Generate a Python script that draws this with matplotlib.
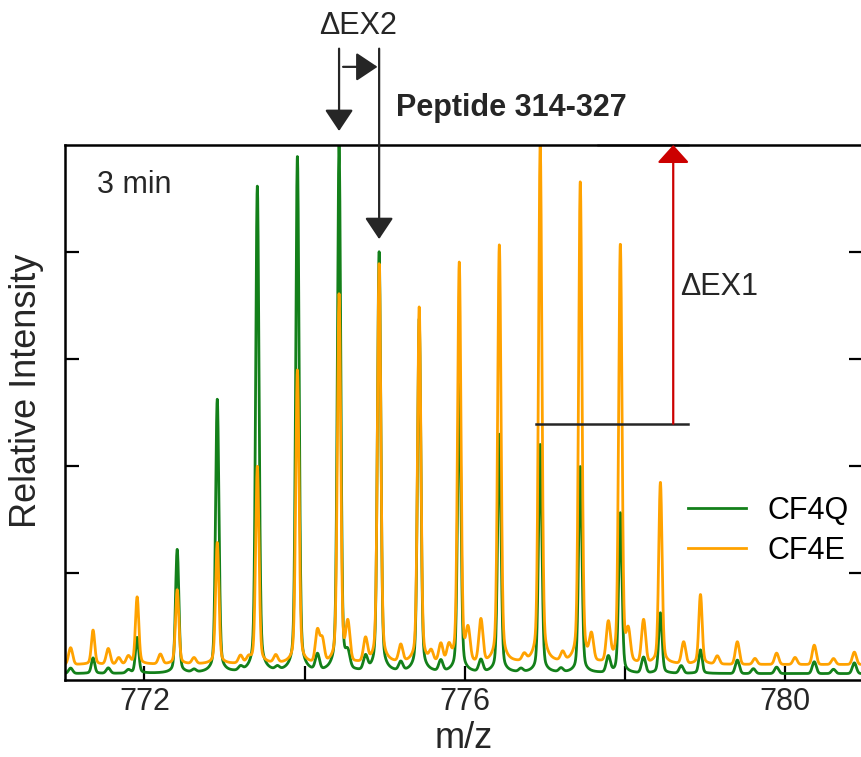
"""Isotope envelope of peptide 314-327 at 3 min: CF4Q vs CF4E, with the ΔEX1 / ΔEX2 markers."""
import matplotlib
matplotlib.use("Agg")
import matplotlib.pyplot as plt
import numpy as np

plt.rcParams["font.family"] = ["Liberation Sans", "DejaVu Sans"]

# --- values (m/z, relative intensity %) ------------------------------------------------------- #
PEAK_MZ = [771.36, 771.91, 772.41, 772.91, 773.41, 773.91, 774.43, 774.93,
           775.43, 775.93, 776.43, 776.94, 777.44, 777.94, 778.44, 778.94]
CF4Q_PEAKS = [4.1, 7.9, 24.3, 52.3, 92.1, 97.6, 99.8, 79.8,
              67.3, 55.1, 45.8, 43.9, 39.8, 31.2, 12.5, 5.6]
CF4E_PEAKS = [9.3, 15.5, 16.8, 25.6, 39.8, 57.8, 72.0, 77.6,
              69.5, 77.9, 81.1, 99.8, 92.9, 81.3, 36.8, 15.9]

CF4Q_BASE = 1.2
CF4E_BASE = 2.9
CF4Q_BUMP_MZ = [771.08, 771.55, 771.80, 772.62, 773.20, 773.66, 774.16, 774.54, 774.76,
                775.20, 775.70, 776.20, 776.70, 777.20, 777.79, 778.23, 778.70, 779.40,
                779.60, 779.89, 780.36, 780.60, 780.86]
CF4Q_BUMPS = [2.2, 2.2, 1.8, 1.7, 1.9, 1.8, 4.1, 3.7, 3.7,
              2.8, 3.2, 3.4, 1.8, 1.9, 4.1, 4.1, 2.6, 3.7,
              2.1, 2.4, 3.4, 2.0, 3.2]
CF4E_BUMP_MZ = [771.08, 771.55, 771.68, 771.80, 772.20, 772.62, 773.20, 773.30, 773.64,
                774.16, 774.22, 774.54, 774.76, 775.20, 775.58, 775.70, 775.80, 776.04,
                776.20, 776.74, 777.22, 777.58, 777.79, 778.04, 778.23, 778.73, 779.15,
                779.40, 779.62, 779.89, 780.12, 780.36, 780.60, 780.86]
CF4E_BUMPS = [6.0, 5.8, 4.1, 4.3, 4.7, 4.0, 4.3, 3.8, 4.3,
              8.8, 7.2, 9.7, 7.1, 6.0, 4.7, 6.2, 5.6, 8.4,
              10.7, 4.1, 4.5, 7.5, 9.9, 8.0, 10.8, 6.9, 4.4,
              7.1, 4.0, 5.0, 4.2, 6.5, 4.0, 5.2]

X_TICKS = [772, 774, 776, 778, 780]
X_LABELS = ["772", "", "776", "", "780"]

GREEN = "#13801a"
ORANGE = "#ffa200"
INK = "#262626"


def trace(mz, base, peak_mz, peaks, bump_mz, bumps):
    """Render the read peak list as a line profile (sharp core + small tail, narrow noise bumps)."""
    y = np.full_like(mz, base)
    for c, h in zip(peak_mz, peaks):
        a = h - base
        d = mz - c
        y += a * (0.86 * np.exp(-0.5 * (d / 0.02) ** 2) + 0.14 / (1 + (d / 0.045) ** 2))
    for c, h in zip(bump_mz, bumps):
        y += (h - base) * np.exp(-0.5 * ((mz - c) / 0.025) ** 2)
    return y


mz = np.linspace(770.9, 781.1, 6000)
cf4q = trace(mz, CF4Q_BASE, PEAK_MZ, CF4Q_PEAKS, CF4Q_BUMP_MZ, CF4Q_BUMPS)
cf4e = trace(mz, CF4E_BASE, PEAK_MZ, CF4E_PEAKS, CF4E_BUMP_MZ, CF4E_BUMPS)

fig = plt.figure(figsize=(8.61, 7.57), dpi=100)
ax = fig.add_axes([0.0755, 0.1017, 0.927, 0.7068])

ax.plot(mz, cf4q, color=GREEN, lw=2.0, label="CF4Q")
ax.plot(mz, cf4e, color=ORANGE, lw=2.0, label="CF4E")

ax.set_xlim(771.01, 780.97)
ax.set_ylim(0, 100)
ax.set_xticks(X_TICKS)
ax.set_xticklabels(X_LABELS)
ax.set_yticks([20, 40, 60, 80])
ax.set_yticklabels([])
ax.tick_params(direction="in", length=10, width=1.6, labelsize=22, pad=5, colors="black",
               labelcolor=INK, right=True)
for s in ax.spines.values():
    s.set_linewidth(1.8)

ax.set_xlabel("m/z", fontsize=26, color=INK, labelpad=3)
ax.set_ylabel("Relative Intensity", fontsize=26, color=INK)
ax.yaxis.set_label_coords(-0.026, 0.54)

ax.text(771.41, 92.5, "3 min", fontsize=22, color=INK, va="center", ha="left")

# ΔEX2: shift of the isotope envelope apex
head = dict(arrowstyle="-|>,head_length=0.6,head_width=0.4", color=INK, lw=1.6,
            mutation_scale=22, shrinkA=0, shrinkB=0)
ax.annotate("", xy=(774.43, 102.6), xytext=(774.43, 118.0), xycoords="data",
            arrowprops=head, annotation_clip=False)
ax.annotate("", xy=(774.93, 82.4), xytext=(774.93, 118.0), xycoords="data",
            arrowprops=head, annotation_clip=False)
ax.annotate("", xy=(774.91, 114.6), xytext=(774.48, 114.6), xycoords="data",
            arrowprops=head, annotation_clip=False)
ax.text(774.67, 122.3, "ΔEX2", fontsize=22, color=INK, ha="center", va="center", clip_on=False)
ax.text(775.14, 106.9, "Peptide 314-327", fontsize=22, fontweight="bold", color=INK,
        ha="left", va="center", clip_on=False)

# ΔEX1: intensity gain of the exchanged peak
ax.plot([776.89, 778.79], [47.9, 47.9], color=INK, lw=1.8)
ax.plot([777.66, 778.79], [100, 100], color="0.55", lw=1.8, clip_on=False)
ax.annotate("", xy=(778.6, 100.0), xytext=(778.6, 47.9), xycoords="data",
            arrowprops=dict(arrowstyle="-|>,head_length=0.5,head_width=0.45", color="#cc0000",
                            lw=1.6, mutation_scale=22, shrinkA=0, shrinkB=0),
            annotation_clip=False)
ax.text(778.68, 73.5, "ΔEX1", fontsize=22, color=INK, ha="left", va="center")

ax.legend(loc="upper left", bbox_to_anchor=(0.765, 0.367), frameon=False, fontsize=22,
          handlelength=1.9, handletextpad=0.7, labelspacing=0.33, borderaxespad=0)

fig.savefig("out.png", dpi=100)
